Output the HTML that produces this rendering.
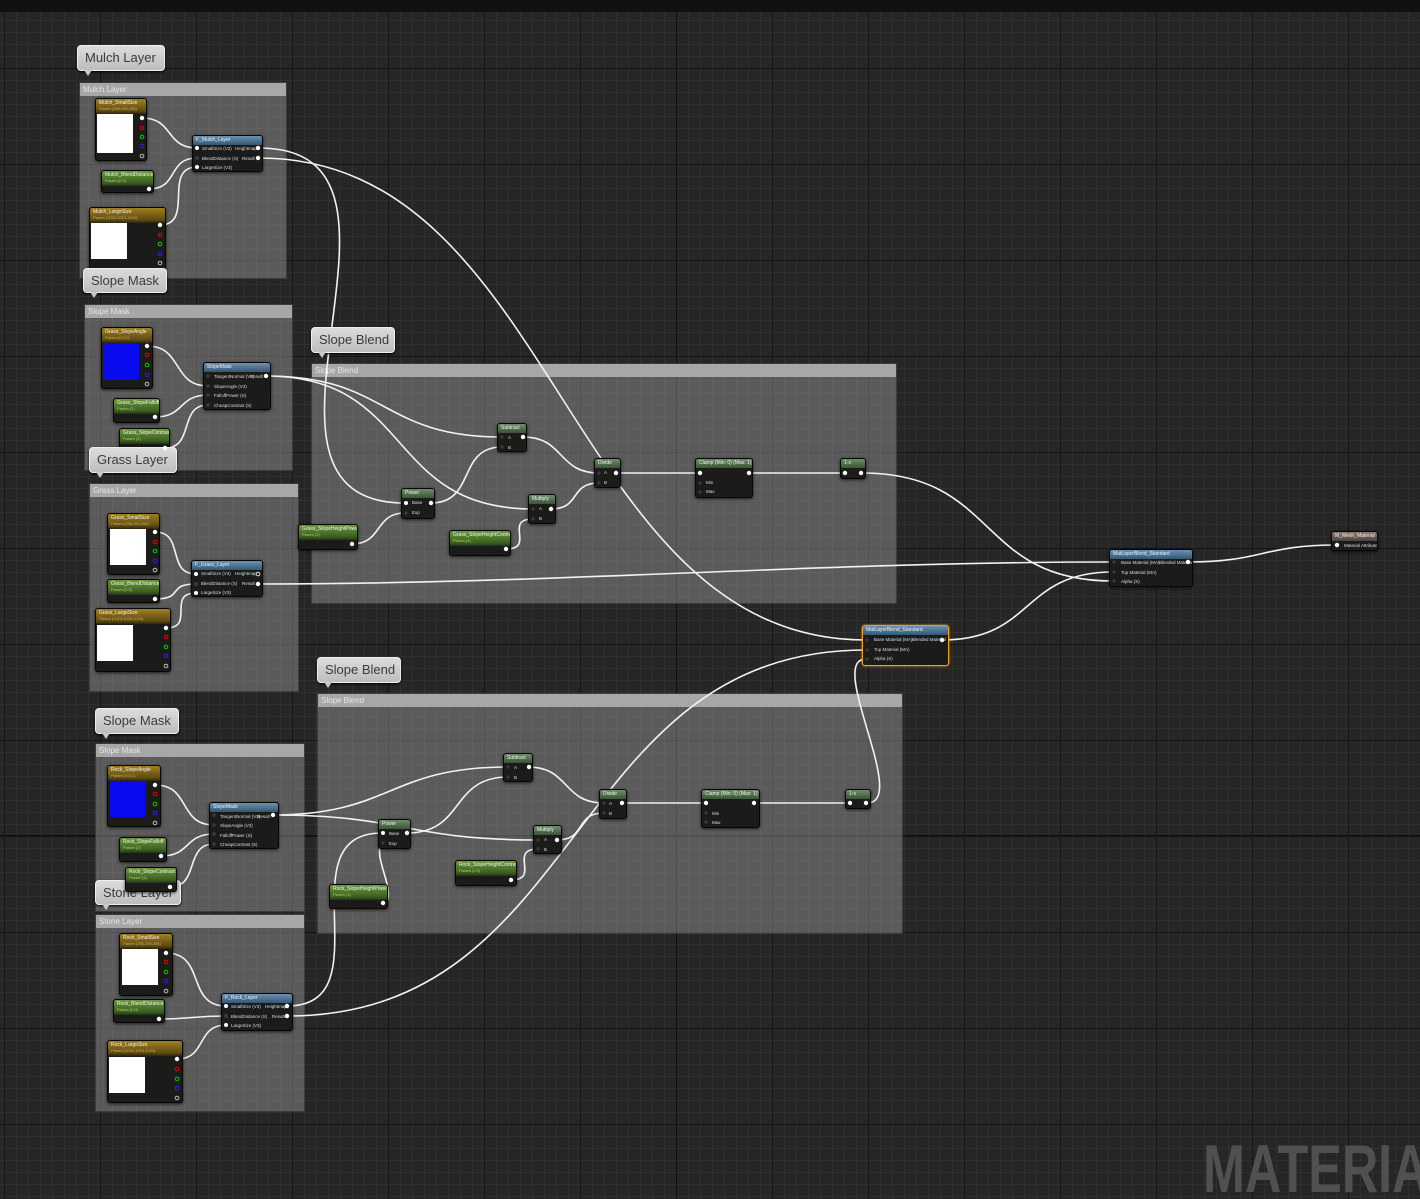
<!DOCTYPE html>
<html><head><meta charset="utf-8"><style>
*{margin:0;padding:0;box-sizing:border-box}
html,body{width:1420px;height:1199px;overflow:hidden}
body{position:relative;background:#262626;font-family:"Liberation Sans",sans-serif}
#grid{position:absolute;left:0;top:0;width:1420px;height:1199px;
background-image:
linear-gradient(to right,#151515 1px,transparent 1px),
linear-gradient(to bottom,#151515 1px,transparent 1px),
linear-gradient(to right,#303030 1px,transparent 1px),
linear-gradient(to bottom,#303030 1px,transparent 1px);
background-size:96px 96px,96px 96px,12px 12px,12px 12px;
background-position:4px 0,0 68px,4px 0,0 8px}
.ax{position:absolute;background:#0d0d0d}
.top{position:absolute;left:0;top:0;width:1420px;height:12px;background:#111}
.c{position:absolute;background:rgba(150,150,150,.48);border:1px solid rgba(40,40,40,.6)}
.c .ch{height:13px;background:#a7a7a7;color:#e6e6e6;font-size:8px;line-height:14px;padding-left:3px}
.b{position:absolute;background:linear-gradient(#dcdcdc,#bdbdbd);border:1px solid #eee;border-radius:4px;color:#3a3a3a;font-size:13px;line-height:24px;padding-left:7px;box-shadow:0 1px 2px #000}
.b:after{content:"";position:absolute;left:6px;bottom:-6px;border-left:4px solid transparent;border-right:4px solid transparent;border-top:6px solid #c8c8c8}
.n{position:absolute;background:#1b1c19;border:1px solid #060606;border-radius:3px;box-shadow:0 1px 3px rgba(0,0,0,.7);overflow:hidden}
.n .h{height:9px;color:#f0f0f0;font-size:5px;line-height:9px;padding-left:3px;white-space:nowrap;overflow:hidden}
.tx .h{height:15px;background:linear-gradient(#a0801e,#5e4a14 80%,#2a2410);line-height:8px}
.sc .h{height:15px;background:linear-gradient(#6a9a3a,#3a5e20 80%,#22301a);line-height:8px}
.fn .h{background:linear-gradient(#6a92b4,#345673)}
.op .h{background:linear-gradient(#6e8e6a,#3a5436)}
.mo .h{background:linear-gradient(#8a7a70,#4e423c)}
.h i{display:block;font-style:normal;color:#c9b060;font-size:4px;line-height:4px}
.sc .h i{color:#a8d070}
.l{position:absolute;font-size:4.5px;color:#ddd;white-space:nowrap}
.sq{position:absolute;background:#fff}
.sel{border:1px solid #f0a020;box-shadow:0 0 2px #f0a020}
#wm{position:absolute;left:1190px;top:1120px;width:230px;height:79px;overflow:hidden}
#wm div{position:absolute;left:13px;top:10px;font-weight:bold;font-size:68px;color:#505050;white-space:nowrap;transform:scaleX(0.74);transform-origin:0 0}
</style></head><body>
<div id="grid"></div>
<div class="ax" style="left:676px;top:0;width:1px;height:1199px"></div>
<div class="ax" style="left:0;top:835px;width:1420px;height:1px"></div>
<div class="top"></div>
<div id="wm"><div>MATERIAL</div></div>

<div class="c" style="left:79px;top:82px;width:208px;height:197px"><div class="ch">Mulch Layer</div></div>
<div class="c" style="left:84px;top:304px;width:209px;height:167px"><div class="ch">Slope Mask</div></div>
<div class="c" style="left:89px;top:483px;width:210px;height:209px"><div class="ch">Grass Layer</div></div>
<div class="c" style="left:311px;top:363px;width:586px;height:241px"><div class="ch">Slope Blend</div></div>
<div class="c" style="left:317px;top:693px;width:586px;height:241px"><div class="ch">Slope Blend</div></div>
<div class="c" style="left:95px;top:743px;width:210px;height:169px"><div class="ch">Slope Mask</div></div>
<div class="c" style="left:95px;top:914px;width:210px;height:198px"><div class="ch">Stone Layer</div></div>

<svg style="position:absolute;left:0;top:0" width="1420" height="1199" fill="none" stroke="#f2f2f2" stroke-width="1.6">
<path d="M142 118C174 118 165 148 197 148"/>
<path d="M149 189C179 189 167 158 197 158"/>
<path d="M160 225C195 225 162 167 197 167"/>
<path d="M259 148C451 148 213 503 405 503"/>
<path d="M259 158C559 158 566 640 866 640"/>
<path d="M147 346C183 346 172 386 208 386"/>
<path d="M155 417C185 417 178 395 208 395"/>
<path d="M165 448C195 448 178 405 208 405"/>
<path d="M266 376C388 376 380 437 502 437"/>
<path d="M266 376C415 376 384 509 533 509"/>
<path d="M431 503C476 503 457 447 502 447"/>
<path d="M352 544C383 544 374 513 405 513"/>
<path d="M506 549C536 549 503 519 533 519"/>
<path d="M523 437C565 437 557 473 599 473"/>
<path d="M551 509C581 509 569 483 599 483"/>
<path d="M615 473L700 473"/>
<path d="M750 473L845 473"/>
<path d="M862 473C999 473 976 581 1113 581"/>
<path d="M258 584C558 584 813 562 1113 562"/>
<path d="M942 640C1034 640 1021 572 1113 572"/>
<path d="M1188 562C1263 562 1262 545 1337 545"/>
<path d="M155 532C185 532 166 574 196 574"/>
<path d="M155 599C185 599 166 584 196 584"/>
<path d="M166 628C196 628 166 593 196 593"/>
<path d="M155 785C191 785 178 825 214 825"/>
<path d="M161 856C191 856 184 834 214 834"/>
<path d="M170 887C200 887 184 844 214 844"/>
<path d="M272 815C392 815 388 767 508 767"/>
<path d="M272 815C406 815 404 840 538 840"/>
<path d="M407 833C465 833 450 777 508 777"/>
<path d="M386 903C396 890 372 856 382 843"/>
<path d="M287 1006C386 1006 283 833 382 833"/>
<path d="M287 1016C587 1016 566 650 866 650"/>
<path d="M511 880C541 880 508 849 538 849"/>
<path d="M528 767C570 767 562 803 604 803"/>
<path d="M557 840C587 840 574 813 604 813"/>
<path d="M622 803L705 803"/>
<path d="M755 803L850 803"/>
<path d="M867 803C910 803 826 659 866 659"/>
<path d="M166 953C206 953 186 1006 226 1006"/>
<path d="M159 1019C193 1019 192 1016 226 1016"/>
<path d="M177 1059C207 1059 196 1025 226 1025"/>
</svg>

<div class="n tx" style="left:95px;top:98px;width:52px;height:63px"><div class="h">Mulch_SmallSize<i>Param (256,256,256)</i></div></div>
<div class="sq" style="left:97px;top:114px;width:36px;height:39px"></div>
<div class="n sc" style="left:101px;top:170px;width:53px;height:23px"><div class="h">Mulch_BlendDistance<i>Param (0.0)</i></div></div>
<div class="n tx" style="left:89px;top:207px;width:77px;height:63px"><div class="h">Mulch_LargeSize<i>Param (1024,1024,1024)</i></div></div>
<div class="sq" style="left:91px;top:223px;width:36px;height:36px"></div>
<div class="n fn" style="left:192px;top:135px;width:71px;height:37px"><div class="h">F_Mulch_Layer</div>
<span class="l" style="left:9px;top:10px">SmallSize (V3)</span><span class="l" style="left:42px;top:10px">Heightmap</span>
<span class="l" style="left:9px;top:20px">BlendDistance (S)</span><span class="l" style="left:49px;top:20px">Result</span>
<span class="l" style="left:9px;top:29px">LargeSize (V3)</span></div>

<div class="n tx" style="left:101px;top:327px;width:52px;height:62px"><div class="h">Grass_SlopeAngle<i>Param (0,0,1)</i></div></div>
<div class="sq" style="left:103px;top:343px;width:36px;height:37px;background:#0a0aee"></div>
<div class="n sc" style="left:113px;top:398px;width:47px;height:25px"><div class="h">Grass_SlopeFalloff<i>Param (2)</i></div></div>
<div class="n sc" style="left:119px;top:428px;width:51px;height:25px"><div class="h">Grass_SlopeContrast<i>Param (4)</i></div></div>
<div class="n fn" style="left:203px;top:362px;width:68px;height:48px"><div class="h">SlopeMask</div>
<span class="l" style="left:10px;top:11px">TangentNormal (V3)</span><span class="l" style="left:46px;top:11px">Result</span>
<span class="l" style="left:10px;top:21px">SlopeAngle (V3)</span><span class="l" style="left:10px;top:30px">FalloffPower (S)</span><span class="l" style="left:10px;top:40px">CheapContrast (S)</span></div>

<div class="n tx" style="left:107px;top:513px;width:53px;height:62px"><div class="h">Grass_SmallSize<i>Param (256,256,256)</i></div></div>
<div class="sq" style="left:110px;top:529px;width:36px;height:36px"></div>
<div class="n sc" style="left:107px;top:579px;width:53px;height:24px"><div class="h">Grass_BlendDistance<i>Param (0.0)</i></div></div>
<div class="n tx" style="left:95px;top:608px;width:76px;height:64px"><div class="h">Grass_LargeSize<i>Param (1024,1024,1024)</i></div></div>
<div class="sq" style="left:97px;top:625px;width:36px;height:36px"></div>
<div class="n fn" style="left:191px;top:560px;width:72px;height:37px"><div class="h">F_Grass_Layer</div>
<span class="l" style="left:9px;top:10px">SmallSize (V3)</span><span class="l" style="left:43px;top:10px">Heightmap</span>
<span class="l" style="left:9px;top:20px">BlendDistance (S)</span><span class="l" style="left:50px;top:20px">Result</span>
<span class="l" style="left:9px;top:29px">LargeSize (V3)</span></div>

<div class="n op" style="left:497px;top:423px;width:30px;height:29px"><div class="h">Subtract</div><span class="l" style="left:10px;top:11px">A</span><span class="l" style="left:10px;top:21px">B</span></div>
<div class="n op" style="left:401px;top:488px;width:34px;height:31px"><div class="h">Power</div><span class="l" style="left:10px;top:11px">Base</span><span class="l" style="left:10px;top:21px">Exp</span></div>
<div class="n op" style="left:528px;top:494px;width:28px;height:30px"><div class="h">Multiply</div><span class="l" style="left:10px;top:11px">A</span><span class="l" style="left:10px;top:21px">B</span></div>
<div class="n op" style="left:594px;top:458px;width:27px;height:30px"><div class="h">Divide</div><span class="l" style="left:9px;top:11px">A</span><span class="l" style="left:9px;top:21px">B</span></div>
<div class="n op" style="left:695px;top:458px;width:58px;height:40px"><div class="h">Clamp (Min: 0) (Max: 1)</div><span class="l" style="left:10px;top:21px">Min</span><span class="l" style="left:10px;top:30px">Max</span></div>
<div class="n op" style="left:840px;top:458px;width:26px;height:21px"><div class="h">1-x</div></div>
<div class="n sc" style="left:298px;top:524px;width:60px;height:26px"><div class="h">Grass_SlopeHeightPower<i>Param (2)</i></div></div>
<div class="n sc" style="left:449px;top:530px;width:62px;height:26px"><div class="h">Grass_SlopeHeightContrast<i>Param (4)</i></div></div>

<div class="n op" style="left:503px;top:753px;width:30px;height:29px"><div class="h">Subtract</div><span class="l" style="left:10px;top:11px">A</span><span class="l" style="left:10px;top:21px">B</span></div>
<div class="n op" style="left:378px;top:819px;width:33px;height:30px"><div class="h">Power</div><span class="l" style="left:10px;top:11px">Base</span><span class="l" style="left:10px;top:21px">Exp</span></div>
<div class="n op" style="left:533px;top:825px;width:29px;height:29px"><div class="h">Multiply</div><span class="l" style="left:10px;top:11px">A</span><span class="l" style="left:10px;top:21px">B</span></div>
<div class="n op" style="left:599px;top:789px;width:28px;height:30px"><div class="h">Divide</div><span class="l" style="left:9px;top:11px">A</span><span class="l" style="left:9px;top:21px">B</span></div>
<div class="n op" style="left:701px;top:789px;width:59px;height:39px"><div class="h">Clamp (Min: 0) (Max: 1)</div><span class="l" style="left:10px;top:21px">Min</span><span class="l" style="left:10px;top:30px">Max</span></div>
<div class="n op" style="left:845px;top:789px;width:26px;height:20px"><div class="h">1-x</div></div>
<div class="n sc" style="left:329px;top:884px;width:59px;height:25px"><div class="h">Rock_SlopeHeightPower<i>Param (1)</i></div></div>
<div class="n sc" style="left:455px;top:860px;width:62px;height:26px"><div class="h">Rock_SlopeHeightContrast<i>Param (2.0)</i></div></div>

<div class="n fn sel" style="left:862px;top:625px;width:87px;height:41px"><div class="h">MatLayerBlend_Standard</div>
<span class="l" style="left:11px;top:11px">Base Material (MA)</span><span class="l" style="left:49px;top:11px">Blended Material</span>
<span class="l" style="left:11px;top:21px">Top Material (MA)</span><span class="l" style="left:11px;top:30px">Alpha (S)</span></div>
<div class="n fn" style="left:1109px;top:549px;width:84px;height:38px"><div class="h">MatLayerBlend_Standard</div>
<span class="l" style="left:11px;top:10px">Base Material (MA)</span><span class="l" style="left:49px;top:10px">Blended Material</span>
<span class="l" style="left:11px;top:20px">Top Material (MA)</span><span class="l" style="left:11px;top:29px">Alpha (S)</span></div>
<div class="n mo" style="left:1331px;top:531px;width:47px;height:20px"><div class="h">M_Mesh_Material</div><span class="l" style="left:12px;top:11px">Material Attributes</span></div>

<div class="n tx" style="left:107px;top:765px;width:54px;height:62px"><div class="h">Rock_SlopeAngle<i>Param (0,0,1)</i></div></div>
<div class="sq" style="left:110px;top:781px;width:36px;height:36px;background:#0a0aee"></div>
<div class="n sc" style="left:119px;top:837px;width:48px;height:25px"><div class="h">Rock_SlopeFalloff<i>Param (2)</i></div></div>
<div class="n fn" style="left:209px;top:802px;width:70px;height:47px"><div class="h">SlopeMask</div>
<span class="l" style="left:10px;top:11px">TangentNormal (V3)</span><span class="l" style="left:47px;top:11px">Result</span>
<span class="l" style="left:10px;top:20px">SlopeAngle (V3)</span><span class="l" style="left:10px;top:30px">FalloffPower (S)</span><span class="l" style="left:10px;top:39px">CheapContrast (S)</span></div>

<div class="n tx" style="left:119px;top:933px;width:54px;height:63px"><div class="h">Rock_SmallSize<i>Param (256,256,256)</i></div></div>
<div class="sq" style="left:122px;top:949px;width:36px;height:36px"></div>
<div class="n sc" style="left:113px;top:999px;width:52px;height:24px"><div class="h">Rock_BlendDistance<i>Param (0.0)</i></div></div>
<div class="n tx" style="left:107px;top:1040px;width:76px;height:63px"><div class="h">Rock_LargeSize<i>Param (1024,1024,1024)</i></div></div>
<div class="sq" style="left:109px;top:1057px;width:36px;height:36px"></div>
<div class="n fn" style="left:221px;top:993px;width:72px;height:38px"><div class="h">F_Rock_Layer</div>
<span class="l" style="left:9px;top:10px">SmallSize (V3)</span><span class="l" style="left:43px;top:10px">Heightmap</span>
<span class="l" style="left:9px;top:20px">BlendDistance (S)</span><span class="l" style="left:50px;top:20px">Result</span>
<span class="l" style="left:9px;top:29px">LargeSize (V3)</span></div>

<div class="b" style="left:77px;top:45px;width:88px;height:26px">Mulch Layer</div>
<div class="b" style="left:83px;top:268px;width:84px;height:25px">Slope Mask</div>
<div class="b" style="left:311px;top:327px;width:84px;height:26px">Slope Blend</div>
<div class="b" style="left:89px;top:447px;width:88px;height:26px">Grass Layer</div>
<div class="b" style="left:317px;top:657px;width:84px;height:26px">Slope Blend</div>
<div class="b" style="left:95px;top:708px;width:84px;height:26px">Slope Mask</div>
<div class="b" style="left:95px;top:880px;width:86px;height:25px">Stone Layer</div>
<div class="n sc" style="left:125px;top:867px;width:52px;height:25px"><div class="h">Rock_SlopeContrast<i>Param (4)</i></div></div>

<svg style="position:absolute;left:0;top:0" width="1420" height="1199">
<g fill="#fff">
<circle cx="142" cy="118" r="2.2"/><circle cx="149" cy="189" r="2.2"/><circle cx="160" cy="225" r="2.2"/>
<circle cx="197" cy="148" r="2"/><circle cx="197" cy="167" r="2"/><circle cx="258" cy="148" r="2.2"/><circle cx="258" cy="158" r="2.2"/>
<circle cx="147" cy="346" r="2.2"/><circle cx="155" cy="417" r="2.2"/><circle cx="165" cy="448" r="2.2"/><circle cx="266" cy="376" r="2.2"/>
<circle cx="155" cy="532" r="2.2"/><circle cx="155" cy="599" r="2.2"/><circle cx="166" cy="628" r="2.2"/>
<circle cx="196" cy="574" r="2"/><circle cx="196" cy="593" r="2"/><circle cx="258" cy="584" r="2.2"/>
<circle cx="523" cy="437" r="2.2"/><circle cx="406" cy="503" r="2"/><circle cx="431" cy="503" r="2.2"/><circle cx="551" cy="509" r="2.2"/>
<circle cx="616" cy="473" r="2.2"/><circle cx="700" cy="473" r="2.2"/><circle cx="749" cy="473" r="2.2"/>
<circle cx="845" cy="473" r="2.2"/><circle cx="861" cy="473" r="2.2"/><circle cx="352" cy="544" r="2.2"/><circle cx="506" cy="549" r="2.2"/>
<circle cx="529" cy="767" r="2.2"/><circle cx="383" cy="833" r="2"/><circle cx="407" cy="833" r="2.2"/><circle cx="557" cy="840" r="2.2"/>
<circle cx="622" cy="803" r="2.2"/><circle cx="706" cy="803" r="2.2"/><circle cx="754" cy="803" r="2.2"/><circle cx="850" cy="803" r="2.2"/><circle cx="866" cy="803" r="2.2"/>
<circle cx="383" cy="903" r="2.2"/><circle cx="511" cy="880" r="2.2"/>
<circle cx="942" cy="640" r="2.2"/><circle cx="1188" cy="562" r="2.2"/><circle cx="1337" cy="545" r="2.2"/>
<circle cx="155" cy="785" r="2.2"/><circle cx="161" cy="856" r="2.2"/><circle cx="170" cy="887" r="2.2"/><circle cx="273" cy="815" r="2.2"/>
<circle cx="166" cy="953" r="2.2"/><circle cx="159" cy="1019" r="2.2"/><circle cx="177" cy="1059" r="2.2"/>
<circle cx="226" cy="1006" r="2"/><circle cx="226" cy="1025" r="2"/><circle cx="287" cy="1006" r="2.2"/><circle cx="287" cy="1016" r="2.2"/>
</g>
<g fill="#3a3a3a">
<circle cx="197" cy="158" r="2"/><circle cx="208" cy="376" r="1.8"/><circle cx="208" cy="386" r="1.8"/><circle cx="208" cy="395" r="1.8"/><circle cx="208" cy="405" r="1.8"/>
<circle cx="196" cy="584" r="2"/><circle cx="502" cy="437" r="1.6"/><circle cx="502" cy="447" r="1.6"/><circle cx="406" cy="513" r="1.6"/>
<circle cx="533" cy="509" r="1.6"/><circle cx="533" cy="519" r="1.6"/><circle cx="599" cy="473" r="1.6"/><circle cx="599" cy="483" r="1.6"/>
<circle cx="700" cy="483" r="1.6"/><circle cx="700" cy="492" r="1.6"/>
<circle cx="508" cy="767" r="1.6"/><circle cx="508" cy="777" r="1.6"/><circle cx="383" cy="843" r="1.6"/><circle cx="538" cy="840" r="1.6"/><circle cx="538" cy="849" r="1.6"/>
<circle cx="604" cy="803" r="1.6"/><circle cx="604" cy="813" r="1.6"/><circle cx="706" cy="813" r="1.6"/><circle cx="706" cy="822" r="1.6"/>
<circle cx="867" cy="640" r="1.6"/><circle cx="867" cy="650" r="1.6"/><circle cx="867" cy="659" r="1.6"/>
<circle cx="1114" cy="562" r="1.6"/><circle cx="1114" cy="572" r="1.6"/><circle cx="1114" cy="581" r="1.6"/>
<circle cx="214" cy="815" r="1.8"/><circle cx="214" cy="825" r="1.8"/><circle cx="214" cy="834" r="1.8"/><circle cx="214" cy="844" r="1.8"/><circle cx="226" cy="1016" r="2"/>
</g>
<g fill="none" stroke-width="1">
<circle cx="142" cy="128" r="1.8" stroke="#e00"/><circle cx="142" cy="137" r="1.8" stroke="#0c0"/><circle cx="142" cy="146" r="1.8" stroke="#22f"/><circle cx="142" cy="156" r="1.8" stroke="#bbb"/>
<circle cx="160" cy="235" r="1.8" stroke="#e00"/><circle cx="160" cy="244" r="1.8" stroke="#0c0"/><circle cx="160" cy="254" r="1.8" stroke="#22f"/><circle cx="160" cy="263" r="1.8" stroke="#bbb"/>
<circle cx="147" cy="355" r="1.8" stroke="#e00"/><circle cx="147" cy="365" r="1.8" stroke="#0c0"/><circle cx="147" cy="375" r="1.8" stroke="#22f"/><circle cx="147" cy="384" r="1.8" stroke="#bbb"/>
<circle cx="155" cy="542" r="1.8" stroke="#e00"/><circle cx="155" cy="551" r="1.8" stroke="#0c0"/><circle cx="155" cy="561" r="1.8" stroke="#22f"/><circle cx="155" cy="570" r="1.8" stroke="#bbb"/>
<circle cx="166" cy="637" r="1.8" stroke="#e00"/><circle cx="166" cy="647" r="1.8" stroke="#0c0"/><circle cx="166" cy="656" r="1.8" stroke="#22f"/><circle cx="166" cy="666" r="1.8" stroke="#bbb"/>
<circle cx="155" cy="794" r="1.8" stroke="#e00"/><circle cx="155" cy="804" r="1.8" stroke="#0c0"/><circle cx="155" cy="813" r="1.8" stroke="#22f"/><circle cx="155" cy="823" r="1.8" stroke="#bbb"/>
<circle cx="166" cy="962" r="1.8" stroke="#e00"/><circle cx="166" cy="972" r="1.8" stroke="#0c0"/><circle cx="166" cy="981" r="1.8" stroke="#22f"/><circle cx="166" cy="991" r="1.8" stroke="#bbb"/>
<circle cx="177" cy="1069" r="1.8" stroke="#e00"/><circle cx="177" cy="1079" r="1.8" stroke="#0c0"/><circle cx="177" cy="1088" r="1.8" stroke="#22f"/><circle cx="177" cy="1098" r="1.8" stroke="#bbb"/>
<circle cx="258" cy="574" r="1.8" stroke="#ddd"/>
</g>
</svg>
</body></html>
